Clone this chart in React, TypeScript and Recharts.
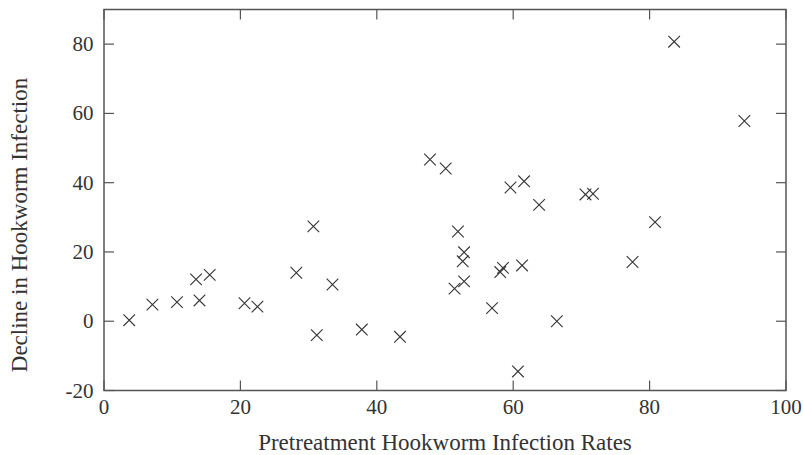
import React from 'react';
import { ScatterChart, Scatter, XAxis, YAxis, ReferenceArea } from 'recharts';

const pretreatmentRates = [
  3.7, 7.1, 10.7, 13.5, 14.0, 15.5, 20.6, 22.5, 28.2, 30.7, 31.2, 33.5,
  37.8, 43.4, 47.8, 50.1, 51.4, 51.9, 52.6, 52.8, 52.8, 56.9, 58.1, 58.5,
  59.6, 60.7, 61.3, 61.6, 63.8, 66.4, 70.6, 71.7, 77.5, 80.8, 83.6, 93.9,
];
const declineValues = [
  0.3, 4.8, 5.5, 12.1, 6.0, 13.4, 5.2, 4.2, 14.0, 27.4, -4.0, 10.6,
  -2.4, -4.5, 46.7, 44.1, 9.4, 25.9, 17.3, 19.9, 11.5, 3.8, 14.2, 15.4,
  38.6, -14.5, 16.1, 40.4, 33.6, 0.0, 36.6, 36.8, 17.1, 28.6, 80.7, 57.8,
];
const xTicks = [0, 20, 40, 60, 80, 100];
const yTicks = [-20, 0, 20, 40, 60, 80];
const xLabel = 'Pretreatment Hookworm Infection Rates';
const yLabel = 'Decline in Hookworm Infection';

const data = pretreatmentRates.map((x, i) => ({ x, y: declineValues[i] }));

const W = 803;
const H = 455;
const PLOT_LEFT = 104;
const PLOT_RIGHT = 786;
const PLOT_TOP = 9.5;
const PLOT_BOTTOM = 390.5;
const TICK_LEN = 10;
const FONT = '"Liberation Serif", "Times New Roman", serif';
const TEXT_COLOR = '#333';
const FRAME = '#555';

const XTick = (props: any) => {
  const { x, payload } = props;
  return (
    <g>
      <line x1={x} y1={PLOT_BOTTOM} x2={x} y2={PLOT_BOTTOM - TICK_LEN} stroke={FRAME} strokeWidth={1.2} />
      <line x1={x} y1={PLOT_TOP} x2={x} y2={PLOT_TOP + TICK_LEN} stroke={FRAME} strokeWidth={1.2} />
      <text x={x} y={414} textAnchor="middle" fontFamily={FONT} fontSize={21} fill={TEXT_COLOR}>
        {payload.value}
      </text>
    </g>
  );
};

const YTick = (props: any) => {
  const { y, payload } = props;
  return (
    <g>
      <line x1={PLOT_LEFT} y1={y} x2={PLOT_LEFT + TICK_LEN} y2={y} stroke={FRAME} strokeWidth={1.2} />
      <line x1={PLOT_RIGHT} y1={y} x2={PLOT_RIGHT - TICK_LEN} y2={y} stroke={FRAME} strokeWidth={1.2} />
      <text x={93.5} y={y + 7} textAnchor="end" fontFamily={FONT} fontSize={21} fill={TEXT_COLOR}>
        {payload.value}
      </text>
    </g>
  );
};

const Cross = (props: any) => {
  const { cx, cy } = props;
  if (cx == null || cy == null) return null;
  const s = 5.8;
  return (
    <path
      d={`M${cx - s},${cy - s}L${cx + s},${cy + s}M${cx - s},${cy + s}L${cx + s},${cy - s}`}
      stroke="#333"
      strokeWidth={1.1}
      fill="none"
    />
  );
};

const XAxisLabel = () => (
  <text x={(PLOT_LEFT + PLOT_RIGHT) / 2} y={450} textAnchor="middle" fontFamily={FONT} fontSize={23} fill={TEXT_COLOR}>
    {xLabel}
  </text>
);

const YAxisLabel = () => (
  <text
    x={27}
    y={225}
    transform="rotate(-90, 27, 225)"
    textAnchor="middle"
    fontFamily={FONT}
    fontSize={23}
    fill={TEXT_COLOR}
  >
    {yLabel}
  </text>
);

export default function App() {
  return (
    <div style={{ width: W, height: H }}>
      <style>{`body{margin:0;overflow:hidden}`}</style>
      <ScatterChart
        width={W}
        height={H}
        margin={{ top: PLOT_TOP, right: W - PLOT_RIGHT, bottom: 0, left: 0 }}
      >
        <XAxis
          type="number"
          dataKey="x"
          domain={[0, 100]}
          ticks={xTicks}
          interval={0}
          axisLine={false}
          tickLine={false}
          tick={<XTick />}
          height={H - PLOT_BOTTOM}
          label={<XAxisLabel />}
        />
        <YAxis
          type="number"
          dataKey="y"
          domain={[-20, 90]}
          ticks={yTicks}
          interval={0}
          axisLine={false}
          tickLine={false}
          tick={<YTick />}
          width={PLOT_LEFT}
          label={<YAxisLabel />}
        />
        <ReferenceArea x1={0} x2={100} y1={-20} y2={90} fill="none" stroke={FRAME} strokeWidth={1.5} />
        <Scatter data={data} shape={<Cross />} isAnimationActive={false} />
      </ScatterChart>
    </div>
  );
}
